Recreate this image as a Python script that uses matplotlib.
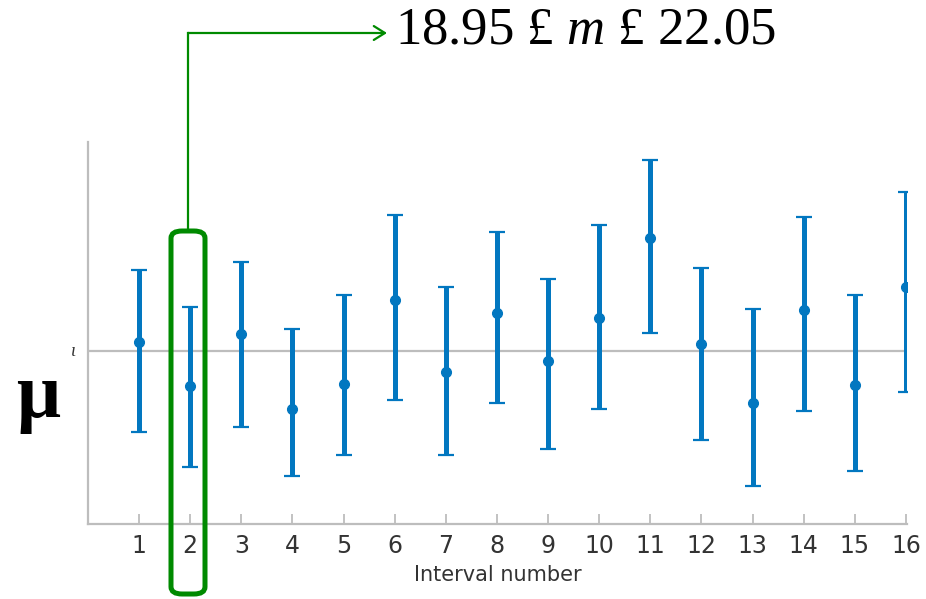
import numpy as np
import matplotlib
matplotlib.use("Agg")
import matplotlib.pyplot as plt
from matplotlib.patches import FancyBboxPatch, FancyArrowPatch

# 16 confidence intervals for the mean
intervals = list(range(1, 17))
centers = [20.68, 19.80, 20.84, 19.34, 19.84, 21.52, 20.08, 21.26,
           20.30, 21.16, 22.76, 20.64, 19.46, 21.32, 19.82, 21.78]
lower = [18.88, 18.18, 18.98, 18.00, 18.42, 19.52, 18.42, 19.46,
         18.54, 19.34, 20.86, 18.72, 17.80, 19.30, 18.10, 19.68]
upper = [22.12, 21.38, 22.28, 20.94, 21.62, 23.22, 21.78, 22.88,
         21.94, 23.02, 24.32, 22.16, 21.34, 23.18, 21.62, 23.68]
mu = 20.5
note_text = "18.95 £ $m$ £ 22.05"

plt.rcParams["mathtext.fontset"] = "custom"
plt.rcParams["mathtext.it"] = "Liberation Serif:italic"
plt.rcParams["mathtext.rm"] = "Liberation Serif"

W, H = 926, 599
fig = plt.figure(figsize=(W / 100, H / 100), dpi=100)
ax = fig.add_axes([88 / W, 1 - 524 / H, (907 - 88) / W, (524 - 142) / H])

c = np.array(centers)
yerr = [c - np.array(lower), np.array(upper) - c]
blue = "#0277c0"
ax.errorbar(intervals, centers, yerr=yerr, fmt="o", color=blue, ecolor=blue,
            elinewidth=3.6, capsize=6, capthick=1.6, markersize=7, zorder=3)
ax.axhline(mu, color="#bdbdbd", lw=1.6, zorder=1)

ax.set_xlim(0.0, 16.02)
ax.set_ylim(17.04, 24.68)
ax.set_xticks(intervals)
ax.set_yticks([])
ax.tick_params(axis="x", direction="in", length=7, width=1.3, color="#bdbdbd",
               labelsize=17, labelcolor="#333333", pad=7)
for s in ["top", "right"]:
    ax.spines[s].set_visible(False)
for s in ["left", "bottom"]:
    ax.spines[s].set_color("#bdbdbd")
    ax.spines[s].set_linewidth(1.6)
ax.set_xlabel("Interval number", fontsize=15, color="#333333", labelpad=5)

# mu label on the left
fig.text(38 / W, 1 - 398 / H, "μ", fontsize=56, family="Liberation Serif",
         weight="bold", ha="center", va="center", color="black")
fig.text(73 / W, 1 - 352 / H, "ι", fontsize=13, family="Liberation Serif",
         style="italic", ha="center", va="center", color="#333333")

# green box around interval 2 and arrow to the note
green = "#008a00"
box = FancyBboxPatch((171 / W, 1 - 594 / H), (205 - 171) / W, (594 - 231) / H,
                     boxstyle="round,pad=0,rounding_size=0.012",
                     transform=fig.transFigure, fill=False, ec=green, lw=3.6,
                     zorder=5)
fig.add_artist(box)
fig.add_artist(plt.Line2D([188 / W, 188 / W], [1 - 230 / H, 1 - 33 / H],
                          transform=fig.transFigure, color=green, lw=1.6))
fig.add_artist(FancyArrowPatch(
    (188 / W, 1 - 33 / H), (387 / W, 1 - 33 / H), transform=fig.transFigure,
    arrowstyle="->,head_length=8,head_width=5", color=green, lw=1.6,
    shrinkA=0, shrinkB=0))

fig.text(395 / W, 1 - 31 / H, note_text, fontsize=38, family="Liberation Serif",
         ha="left", va="center", color="black")

fig.savefig("out.png", dpi=100)
